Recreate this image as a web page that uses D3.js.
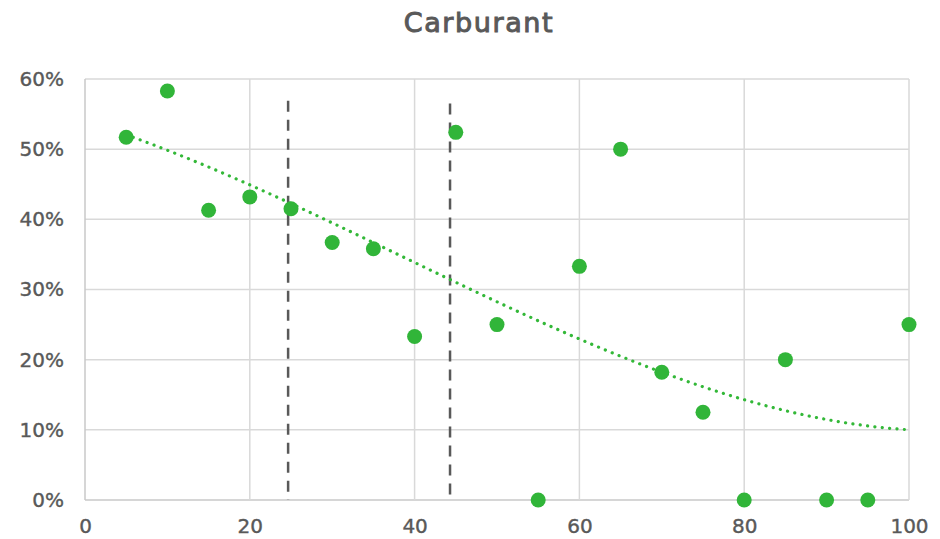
<!DOCTYPE html>
<html>
<head>
<meta charset="utf-8">
<script src="https://cdn.jsdelivr.net/npm/d3@7"></script>
<style>
  body { margin: 0; background: #fff; }
  text { font-family: "DejaVu Sans", sans-serif; fill: #595959; }
</style>
</head>
<body>
<div id="chart"></div>
<script>
// data
const xValues = [5, 10, 15, 20, 25, 30, 35, 40, 45, 50, 55, 60, 65, 70, 75, 80, 85, 90, 95, 100];
const yValues = [0.517, 0.583, 0.413, 0.432, 0.415, 0.367, 0.358, 0.233, 0.524, 0.25, 0, 0.333, 0.5, 0.182, 0.125, 0, 0.2, 0, 0, 0.25];
const markerX = [24.65, 44.3];
const markerTop = [0.569, 0.565];
const xTicks = [0, 20, 40, 60, 80, 100];
const yTicks = [0, 0.1, 0.2, 0.3, 0.4, 0.5, 0.6];
const title = "Carburant";

const width = 940, height = 539;
const margin = {top: 79, right: 31, bottom: 39, left: 85};

const svg = d3.select("#chart").append("svg")
    .attr("width", width)
    .attr("height", height);

const xScale = d3.scaleLinear().domain([0, 100]).range([margin.left, width - margin.right]);
const yScale = d3.scaleLinear().domain([0, 0.6]).range([height - margin.bottom, margin.top]);

// grid
svg.append("g")
    .selectAll("line")
    .data(yTicks)
    .join("line")
    .attr("x1", xScale(0)).attr("x2", xScale(100))
    .attr("y1", d => yScale(d)).attr("y2", d => yScale(d))
    .attr("stroke", d => d === 0 ? "#c8c8c8" : "#d9d9d9")
    .attr("stroke-width", 1.5);

svg.append("g")
    .selectAll("line")
    .data(xTicks)
    .join("line")
    .attr("x1", d => xScale(d)).attr("x2", d => xScale(d))
    .attr("y1", yScale(0)).attr("y2", yScale(0.6))
    .attr("stroke", d => d === 0 ? "#c8c8c8" : "#d9d9d9")
    .attr("stroke-width", 1.5);

// axes (labels only)
const xAxis = g => g
    .attr("transform", `translate(0,${yScale(0)})`)
    .call(d3.axisBottom(xScale).tickValues(xTicks).tickSize(0).tickPadding(19))
    .call(g => g.select(".domain").remove());

const yAxis = g => g
    .attr("transform", `translate(${xScale(0)},0)`)
    .call(d3.axisLeft(yScale).tickValues(yTicks).tickFormat(d3.format(".0%")).tickSize(0).tickPadding(21))
    .call(g => g.select(".domain").remove());

function styleLabels(sel) {
    sel.selectAll("text")
        .attr("font-size", 20)
        .attr("font-family", "DejaVu Sans, sans-serif")
        .attr("fill", "#595959")
        .attr("stroke", "#595959")
        .attr("stroke-width", 0.4);
}

svg.append("g").call(xAxis).call(styleLabels);
svg.append("g").call(yAxis).call(styleLabels);

// vertical dashed markers
svg.append("g")
    .selectAll("line")
    .data(markerX)
    .join("line")
    .attr("x1", d => xScale(d)).attr("x2", d => xScale(d))
    .attr("y1", (d, i) => yScale(markerTop[i])).attr("y2", yScale(0))
    .attr("stroke", "#595959")
    .attr("stroke-width", 2.5)
    .attr("stroke-dasharray", "11,8");

// polynomial (order 3) trendline, least squares on the data
const deg = 3;
const n = xValues.length;
const A = d3.range(deg + 1).map(r => d3.range(deg + 1).map(c => d3.sum(xValues, x => Math.pow(x, r + c))));
const b = d3.range(deg + 1).map(r => d3.sum(xValues, (x, i) => Math.pow(x, r) * yValues[i]));
function solve(A, b) {
    const m = b.length;
    const M = A.map((r, i) => r.concat([b[i]]));
    for (let c = 0; c < m; c++) {
        for (let r = c + 1; r < m; r++) {
            const f = M[r][c] / M[c][c];
            for (let k = c; k <= m; k++) M[r][k] -= f * M[c][k];
        }
    }
    const x = new Array(m).fill(0);
    for (let r = m - 1; r >= 0; r--) {
        let s = M[r][m];
        for (let k = r + 1; k < m; k++) s -= M[r][k] * x[k];
        x[r] = s / M[r][r];
    }
    return x;
}
const coef = solve(A, b);
const trend = d3.range(xValues[0], xValues[n - 1] + 0.01, 1)
    .map(x => ({x: x, y: d3.sum(coef, (c, k) => c * Math.pow(x, k))}));

const line = d3.line()
    .x(d => xScale(d.x))
    .y(d => yScale(d.y));

svg.append("path")
    .datum(trend)
    .attr("fill", "none")
    .attr("stroke", "#33b838")
    .attr("stroke-width", 3.2)
    .attr("stroke-linecap", "round")
    .attr("stroke-dasharray", "0.1,7.3")
    .attr("d", line);

// points
svg.append("g")
    .selectAll("circle")
    .data(xValues)
    .join("circle")
    .attr("cx", d => xScale(d))
    .attr("cy", (d, i) => yScale(yValues[i]))
    .attr("r", 7.5)
    .attr("fill", "#31b539");

// title
svg.append("text")
    .attr("x", 479)
    .attr("y", 32)
    .attr("text-anchor", "middle")
    .attr("font-size", 27)
    .attr("letter-spacing", 1.6)
    .attr("stroke", "#595959")
    .attr("stroke-width", 1)
    .text(title);
</script>
</body>
</html>
